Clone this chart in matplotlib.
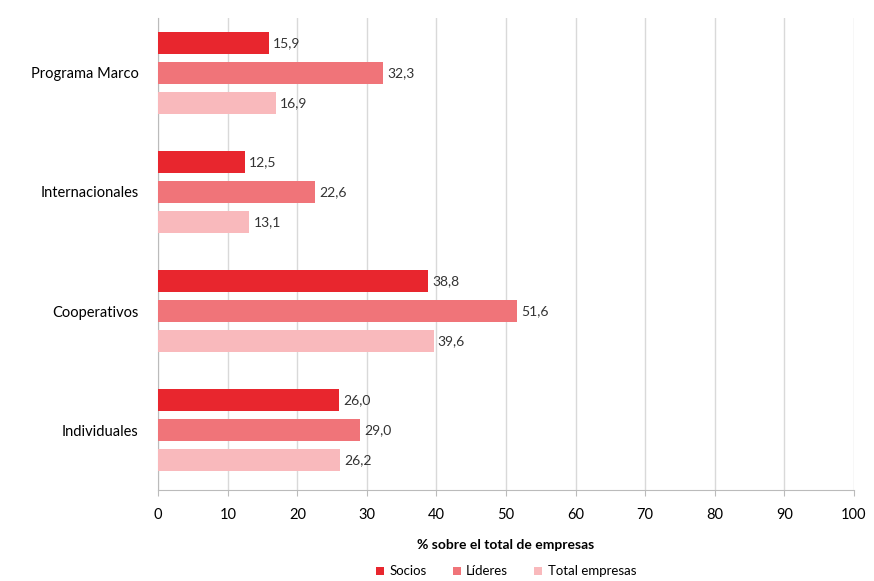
import numpy as np
import matplotlib.pyplot as plt

plt.rcParams['font.family'] = ['Lato', 'DejaVu Sans']

categories = ["Programa Marco", "Internacionales", "Cooperativos", "Individuales"]
socios = [15.9, 12.5, 38.8, 26.0]
lideres = [32.3, 22.6, 51.6, 29.0]
total = [16.9, 13.1, 39.6, 26.2]
series_names = ["Socios", "Líderes", "Total empresas"]
colors = ["#e8262e", "#f07479", "#f9b9bc"]

fig = plt.figure(figsize=(8.74, 5.81), dpi=100)
ax = fig.add_axes([0.181, 0.157, 0.796, 0.812])

y = np.arange(len(categories))[::-1]
h = 0.185
off = 0.252
for i, (vals, name, c) in enumerate(zip([socios, lideres, total], series_names, colors)):
    pos = y + off * (1 - i)
    bars = ax.barh(pos, vals, height=h, color=c, label=name, zorder=3)
    for b, v in zip(bars, vals):
        ax.text(v + 0.6, b.get_y() + h / 2, f"{v:.1f}".replace(".", ","),
                va="center", ha="left", fontsize=10, color="#333333")

ax.set_xlim(0, 100)
ax.set_ylim(-0.5, 3.46)
ax.set_xticks(range(0, 101, 10))
ax.set_yticks(y)
ax.set_yticklabels(categories, fontsize=10.5)
ax.tick_params(axis="y", length=0, pad=14)
ax.tick_params(axis="x", length=4, color="#bbbbbb", labelsize=10.5, pad=9)
ax.grid(axis="x", color="#d9d9d9", linewidth=1, zorder=0)
for s in ["top", "right"]:
    ax.spines[s].set_visible(False)
ax.spines["left"].set_color("#bbbbbb")
ax.spines["bottom"].set_color("#bbbbbb")
ax.set_xlabel("% sobre el total de empresas", fontsize=10, fontweight="bold", labelpad=12)

ax.legend(loc="upper center", bbox_to_anchor=(0.5, -0.135), ncol=3, frameon=False,
          fontsize=9.5, handlelength=0.6, handleheight=0.6, columnspacing=2.0, handletextpad=0.4)

fig.savefig("out.png", dpi=100)
